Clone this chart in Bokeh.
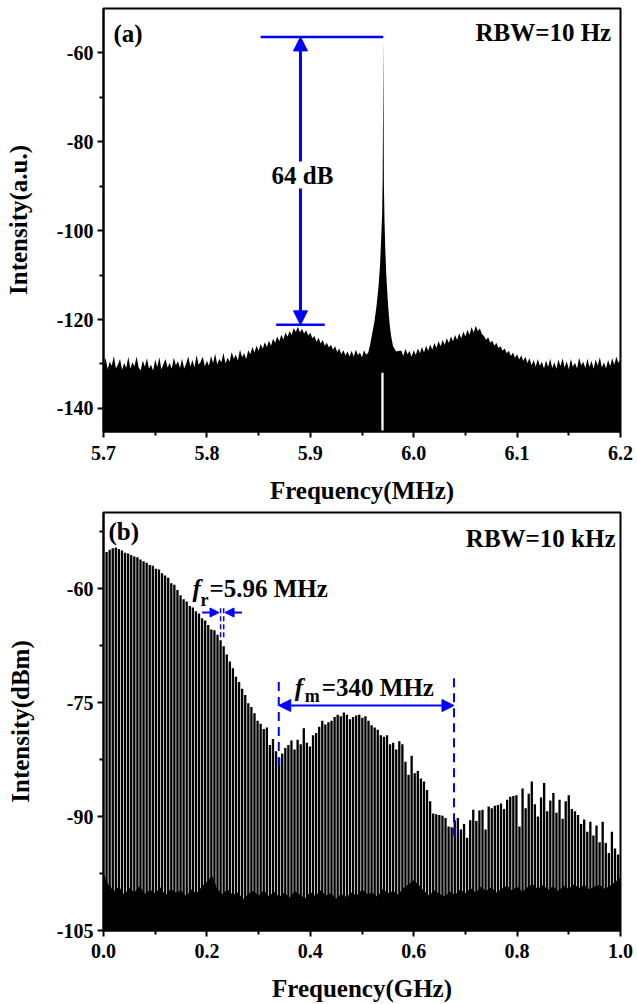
import numpy as np
from bokeh.plotting import figure
from bokeh.layouts import column
from bokeh.models import (Range1d, FixedTicker, NumeralTickFormatter, Label,
                          Arrow, NormalHead)
from bokeh.embed import file_html
from bokeh.resources import INLINE

FONT = "'Liberation Serif', 'Times New Roman', 'DejaVu Serif', serif"
BLUE = "#0000FF"

# ---------------- Panel (a) data: RF beat note, RBW = 10 Hz ----------------
a_x_ticks = [5.7, 5.8, 5.9, 6.0, 6.1, 6.2]
a_y_ticks = [-140, -120, -100, -80, -60]
# noise envelope read every 2 kHz, left of the beat note (5.700 .. 5.956 MHz)
a_noise_left = [
    -130.8, -128.6, -131.2, -129.5, -130.4, -128.2, -131.0, -130.1, -128.9, -131.3,
    -129.8, -130.9, -128.4, -131.1, -129.6, -130.5, -128.3, -130.8, -131.4, -129.2,
    -130.6, -128.7, -131.0, -130.2, -131.5, -129.0, -130.7, -128.5, -131.2, -130.0,
    -128.9, -130.8, -129.7, -131.1, -128.6, -130.3, -129.4, -130.9, -128.8, -131.0,
    -129.9, -128.3, -130.6, -129.1, -130.8, -128.0, -130.2, -129.5, -128.4, -130.5,
    -129.3, -130.4, -128.2, -129.8, -127.7, -130.1, -128.9, -129.6, -127.5, -129.9,
    -128.6, -129.5, -127.3, -128.8, -127.9, -129.2, -126.8, -128.5, -127.6, -128.9,
    -126.9, -127.8, -126.2, -127.4, -125.9, -127.0, -125.5, -126.6, -125.1, -126.2,
    -124.8, -125.9, -124.3, -125.2, -123.8, -124.9, -123.4, -124.5, -122.9, -123.9,
    -122.6, -123.5, -121.9, -122.8, -121.6, -122.9, -122.1, -123.2, -122.4, -123.6,
    -123.0, -124.2, -123.7, -125.0, -124.1, -125.4, -124.6, -125.9, -125.2, -126.3,
    -125.7, -126.8, -126.0, -127.3, -126.5, -127.8, -126.9, -128.1, -127.2, -128.3,
    -127.0, -128.4, -126.8, -128.0, -127.4, -128.5, -126.9, -127.9]
# noise envelope right of the beat note (5.988 .. 6.200 MHz)
a_noise_right = [
    -127.0, -128.2, -126.6, -127.8, -127.1, -128.4, -126.9, -128.0, -126.5, -127.6,
    -126.2, -127.4, -125.9, -127.0, -125.6, -126.8, -125.3, -126.4, -124.9, -126.0,
    -124.6, -125.7, -124.2, -125.3, -123.8, -124.9, -123.5, -124.6, -123.1, -124.2,
    -122.7, -123.8, -122.3, -123.4, -121.7, -123.0, -121.4, -122.6, -122.0, -123.3,
    -123.7, -124.6, -124.0, -125.2, -124.8, -125.9, -125.3, -126.4, -126.0, -127.0,
    -126.5, -127.6, -127.0, -128.2, -127.4, -128.6, -127.8, -129.0, -128.1, -129.3,
    -128.4, -129.8, -128.7, -130.3, -129.1, -130.6, -128.9, -130.4, -129.5, -131.0,
    -129.2, -130.7, -128.8, -130.9, -129.6, -131.1, -129.0, -130.5, -128.7, -130.8,
    -129.4, -131.2, -128.9, -130.6, -129.7, -131.0, -128.6, -130.3, -129.5, -130.9,
    -128.8, -130.7, -129.3, -131.1, -129.0, -130.4, -128.5, -130.8, -129.6, -131.0,
    -129.1, -130.5, -128.7, -130.2, -128.4, -129.8, -128.9]
# beat note profile (5.956 .. 5.986 MHz)
a_peak_freq = [5.9560, 5.9580, 5.9600, 5.9620, 5.9640, 5.9660, 5.9675, 5.9685, 5.9695,
               5.9700, 5.9703, 5.9706, 5.9709, 5.9712, 5.9718, 5.9725, 5.9735, 5.9750,
               5.9765, 5.9780, 5.9800, 5.9830, 5.9860]
a_peak_level = [-127.5, -125.5, -123.0, -120.5, -117.0, -112.5, -107.5, -102.0, -96.0,
                -88.0, -75.0, -56.4, -75.0, -90.0, -98.0, -104.0, -110.0, -116.0,
                -120.5, -123.5, -126.0, -127.2, -127.0]
a_notch_freq = [5.9698]
a_notch_top = [-132.0]
# annotation values (64 dB suppression)
a_carrier_db = -56.4
a_side_db = -121.2
a_arrow_freq = 5.8905

# ---------------- Panel (b) data: comb, RBW = 10 kHz ----------------
b_x_ticks = [0.0, 0.2, 0.4, 0.6, 0.8, 1.0]
b_y_ticks = [-105, -90, -75, -60]
fr_ghz = 0.00596  # repetition rate 5.96 MHz
b_comb_level = [
    -55.2, -54.9, -54.7, -54.6, -54.8, -55.0, -55.3, -55.4, -55.6, -55.8,
    -55.9, -56.2, -56.4, -56.6, -56.9, -57.0, -57.4, -57.5, -58.0, -58.3,
    -58.6, -59.3, -59.5, -60.2, -60.9, -61.4, -61.7, -62.3, -62.5, -63.0,
    -63.3, -63.9, -64.2, -64.8, -65.4, -65.5, -66.1, -66.8, -67.6, -68.7,
    -69.6, -70.5, -71.6, -72.3, -73.2, -74.0, -75.1, -75.6, -76.4, -77.4,
    -77.8, -78.5, -78.3, -80.6, -79.8, -81.4, -82.3, -81.7, -81.0, -80.6,
    -80.0, -81.2, -79.9, -80.5, -78.4, -80.3, -80.8, -79.3, -79.0, -78.2,
    -77.4, -77.9, -77.6, -77.4, -76.9, -76.6, -76.8, -76.3, -76.6, -77.2,
    -76.9, -76.7, -76.6, -77.0, -76.8, -77.4, -78.0, -78.3, -78.6, -79.3,
    -79.5, -79.3, -80.5, -80.3, -81.2, -80.1, -80.5, -82.8, -84.5, -82.0,
    -84.3, -84.0, -85.0, -85.4, -86.5, -88.0, -89.6, -89.7, -89.8, -89.9,
    -90.2, -91.3, -91.4, -90.5, -90.2, -91.7, -91.0, -92.8, -90.5, -89.1,
    -90.6, -89.2, -89.1, -91.7, -88.7, -88.9, -88.6, -88.5, -88.3, -89.0,
    -87.8, -87.4, -87.3, -87.2, -91.3, -86.3, -88.9, -87.0, -85.4, -88.4,
    -90.0, -87.5, -85.6, -89.3, -87.9, -86.9, -89.5, -87.8, -90.3, -88.0,
    -87.2, -89.0, -89.3, -89.8, -91.0, -90.4, -92.0, -90.7, -92.5, -91.2,
    -93.4, -90.7, -93.5, -94.8, -92.0, -94.2, -95.0]
# noise floor read every 10 MHz (0.00 .. 1.00 GHz)
b_floor_level = [
    -97.5, -99.0, -99.8, -99.2, -100.3, -99.4, -100.0, -99.1, -100.2, -99.6,
    -100.1, -99.3, -100.4, -99.5, -100.0, -99.7, -100.5, -99.6, -100.1, -99.2,
    -98.6, -97.8, -99.5, -100.2, -99.6, -100.3, -100.0, -100.9, -100.2, -99.8,
    -100.4, -99.7, -100.5, -99.9, -100.6, -100.0, -100.7, -99.8, -100.3, -100.8,
    -99.9, -100.5, -99.7, -100.4, -100.1, -100.8, -100.2, -100.6, -100.0, -100.4,
    -99.6, -100.2, -100.0, -100.6, -99.5, -100.1, -99.8, -100.3, -99.4, -98.9,
    -98.4, -99.0, -99.8, -100.4, -99.7, -100.2, -100.5, -99.9, -100.3, -99.6,
    -100.1, -99.4, -100.0, -99.2, -99.8, -99.3, -100.0, -99.5, -99.1, -99.7,
    -99.2, -99.9, -99.3, -98.9, -99.5, -99.0, -99.6, -99.2, -99.8, -99.1,
    -99.5, -98.9, -99.4, -99.0, -99.6, -99.2, -99.0, -99.5, -99.1, -98.6,
    -98.0]
# annotation values
b_fm_start = 0.339
b_fm_end = 0.678
b_fm_level = -75.4
b_fr_lines = [0.2265, 0.2325]


def style(p, xlabel, ylabel, xticks, yticks, xminor, yminor, xfmt, yfmt,
          xlab_stand, xstand, ystand):
    p.xgrid.visible = False
    p.ygrid.visible = False
    p.outline_line_color = "black"
    p.outline_line_width = 2
    p.background_fill_color = "white"
    p.border_fill_color = "white"
    for ax in (p.xaxis[0], p.yaxis[0]):
        ax.axis_line_width = 2
        ax.major_tick_line_width = 2
        ax.minor_tick_line_width = 2
        ax.major_tick_out = 6
        ax.major_tick_in = 0
        ax.minor_tick_out = 4
        ax.minor_tick_in = 0
        ax.major_label_text_font = FONT
        ax.major_label_text_font_style = "bold"
        ax.major_label_text_font_size = "20px"
        ax.major_label_text_color = "black"
        ax.axis_label_text_font = FONT
        ax.axis_label_text_font_style = "bold"
        ax.axis_label_text_font_size = "25px"
        ax.axis_label_text_color = "black"
        ax.major_label_standoff = 4
    p.xaxis.major_label_standoff = xlab_stand
    p.xaxis.axis_label = xlabel
    p.yaxis.axis_label = ylabel
    p.xaxis.axis_label_standoff = xstand
    p.yaxis.axis_label_standoff = ystand
    p.xaxis.ticker = FixedTicker(ticks=xticks, minor_ticks=xminor)
    p.yaxis.ticker = FixedTicker(ticks=yticks, minor_ticks=yminor)
    p.xaxis.formatter = NumeralTickFormatter(format=xfmt)
    p.yaxis.formatter = NumeralTickFormatter(format=yfmt)


def txt(p, x, y, text, size="25px", style_="bold", align="left", x_offset=0, bg=None):
    lab = Label(x=x, y=y, text=text, text_font=FONT, text_font_size=size,
                text_font_style=style_, text_align=align, text_baseline="middle",
                text_color="black", x_offset=x_offset)
    if bg:
        lab.background_fill_color = bg
    p.add_layout(lab)


# ======================= Panel (a) =======================
p1 = figure(width=637, height=511, output_backend="svg", toolbar_location=None,
            x_range=Range1d(5.7, 6.2), y_range=Range1d(-145.2, -50),
            min_border_left=103, min_border_right=13, min_border_top=8, min_border_bottom=80)
style(p1, "Frequency(MHz)", "Intensity(a.u.)", a_x_ticks, a_y_ticks,
      [5.75, 5.85, 5.95, 6.05, 6.15], [-130, -110, -90, -70], "0.0", "0", 8, 14, 22)

left_f = np.round(5.700 + 0.002 * np.arange(len(a_noise_left)), 4)
right_f = np.round(5.988 + 0.002 * np.arange(len(a_noise_right)), 4)
a_f = np.concatenate([left_f, np.array(a_peak_freq), right_f])
a_v = np.concatenate([np.array(a_noise_left), np.array(a_peak_level), np.array(a_noise_right)])
p1.varea(x=a_f, y1=-150, y2=a_v, fill_color="black")
p1.vbar(x=a_notch_freq, top=a_notch_top, bottom=-150, width=0.0022,
        fill_color="white", line_color=None)

# annotations: 64 dB
p1.segment(x0=[5.852], y0=[a_carrier_db], x1=[a_peak_freq[11]], y1=[a_carrier_db],
           line_color=BLUE, line_width=2.5)
p1.segment(x0=[5.867], y0=[a_side_db], x1=[5.914], y1=[a_side_db],
           line_color=BLUE, line_width=2.5)
p1.add_layout(Arrow(start=NormalHead(size=14, fill_color=BLUE, line_color=BLUE),
                    end=NormalHead(size=14, fill_color=BLUE, line_color=BLUE),
                    x_start=a_arrow_freq, y_start=a_side_db, x_end=a_arrow_freq, y_end=a_carrier_db,
                    line_color=BLUE, line_width=3))
txt(p1, 5.8924, -87.5, "64 dB", align="center", bg="white")
txt(p1, 5.7096, -55.54, "(a)")
txt(p1, 6.191, -55.43, "RBW=10 Hz", align="right")

# ======================= Panel (b) =======================
p2 = figure(width=637, height=493, output_backend="svg", toolbar_location=None,
            x_range=Range1d(0, 1.0), y_range=Range1d(-105, -50),
            min_border_left=101, min_border_right=17, min_border_top=1, min_border_bottom=74)
style(p2, "Frequency(GHz)", "Intensity(dBm)", b_x_ticks, b_y_ticks,
      [0.1, 0.3, 0.5, 0.7, 0.9], [-97.5, -82.5, -67.5, -52.5], "0.0", "0", 7, 14, 20)

comb_f = fr_ghz * np.arange(1, len(b_comb_level) + 1)
p2.vbar(x=comb_f, top=b_comb_level, bottom=-106, width=0.0045,
        fill_color="black", line_color=None)
floor_f = np.round(0.01 * np.arange(len(b_floor_level)), 3)
p2.varea(x=floor_f, y1=-106, y2=b_floor_level, fill_color="black")

# f_r annotation
p2.segment(x0=b_fr_lines, y0=[-62.6, -62.6], x1=b_fr_lines, y1=[-66.6, -66.6],
           line_color=BLUE, line_width=1.5, line_dash="5 3")
p2.add_layout(Arrow(end=NormalHead(size=9, fill_color=BLUE, line_color=BLUE),
                    x_start=0.1908, y_start=-63.16, x_end=0.2235, y_end=-63.16,
                    line_color=BLUE, line_width=2))
p2.add_layout(Arrow(end=NormalHead(size=9, fill_color=BLUE, line_color=BLUE),
                    x_start=0.2678, y_start=-63.16, x_end=0.2351, y_end=-63.16,
                    line_color=BLUE, line_width=2))
txt(p2, 0.1720, -60.0, "f", style_="bold italic")
txt(p2, 0.1720, -61.45, "r", size="18px", x_offset=8)
txt(p2, 0.1720, -60.0, "=5.96 MHz", x_offset=17)

# f_m annotation
p2.segment(x0=[b_fm_start, b_fm_end], y0=[-72.3, -71.8], x1=[b_fm_start, b_fm_end],
           y1=[-83.3, -92.5], line_color=BLUE, line_width=2, line_dash="9 6")
p2.add_layout(Arrow(start=NormalHead(size=12, fill_color=BLUE, line_color=BLUE),
                    end=NormalHead(size=12, fill_color=BLUE, line_color=BLUE),
                    x_start=b_fm_start, y_start=b_fm_level, x_end=b_fm_end, y_end=b_fm_level,
                    line_color=BLUE, line_width=2))
txt(p2, 0.370, -73.0, "f", style_="bold italic")
txt(p2, 0.370, -74.16, "m", size="18px", x_offset=10)
txt(p2, 0.370, -73.0, "=340 MHz", x_offset=27)

txt(p2, 0.0096, -52.46, "(b)")
txt(p2, 0.9904, -53.38, "RBW=10 kHz", align="right")

layout = column(p1, p2, spacing=0)
open("out.html", "w").write(file_html(layout, INLINE))
